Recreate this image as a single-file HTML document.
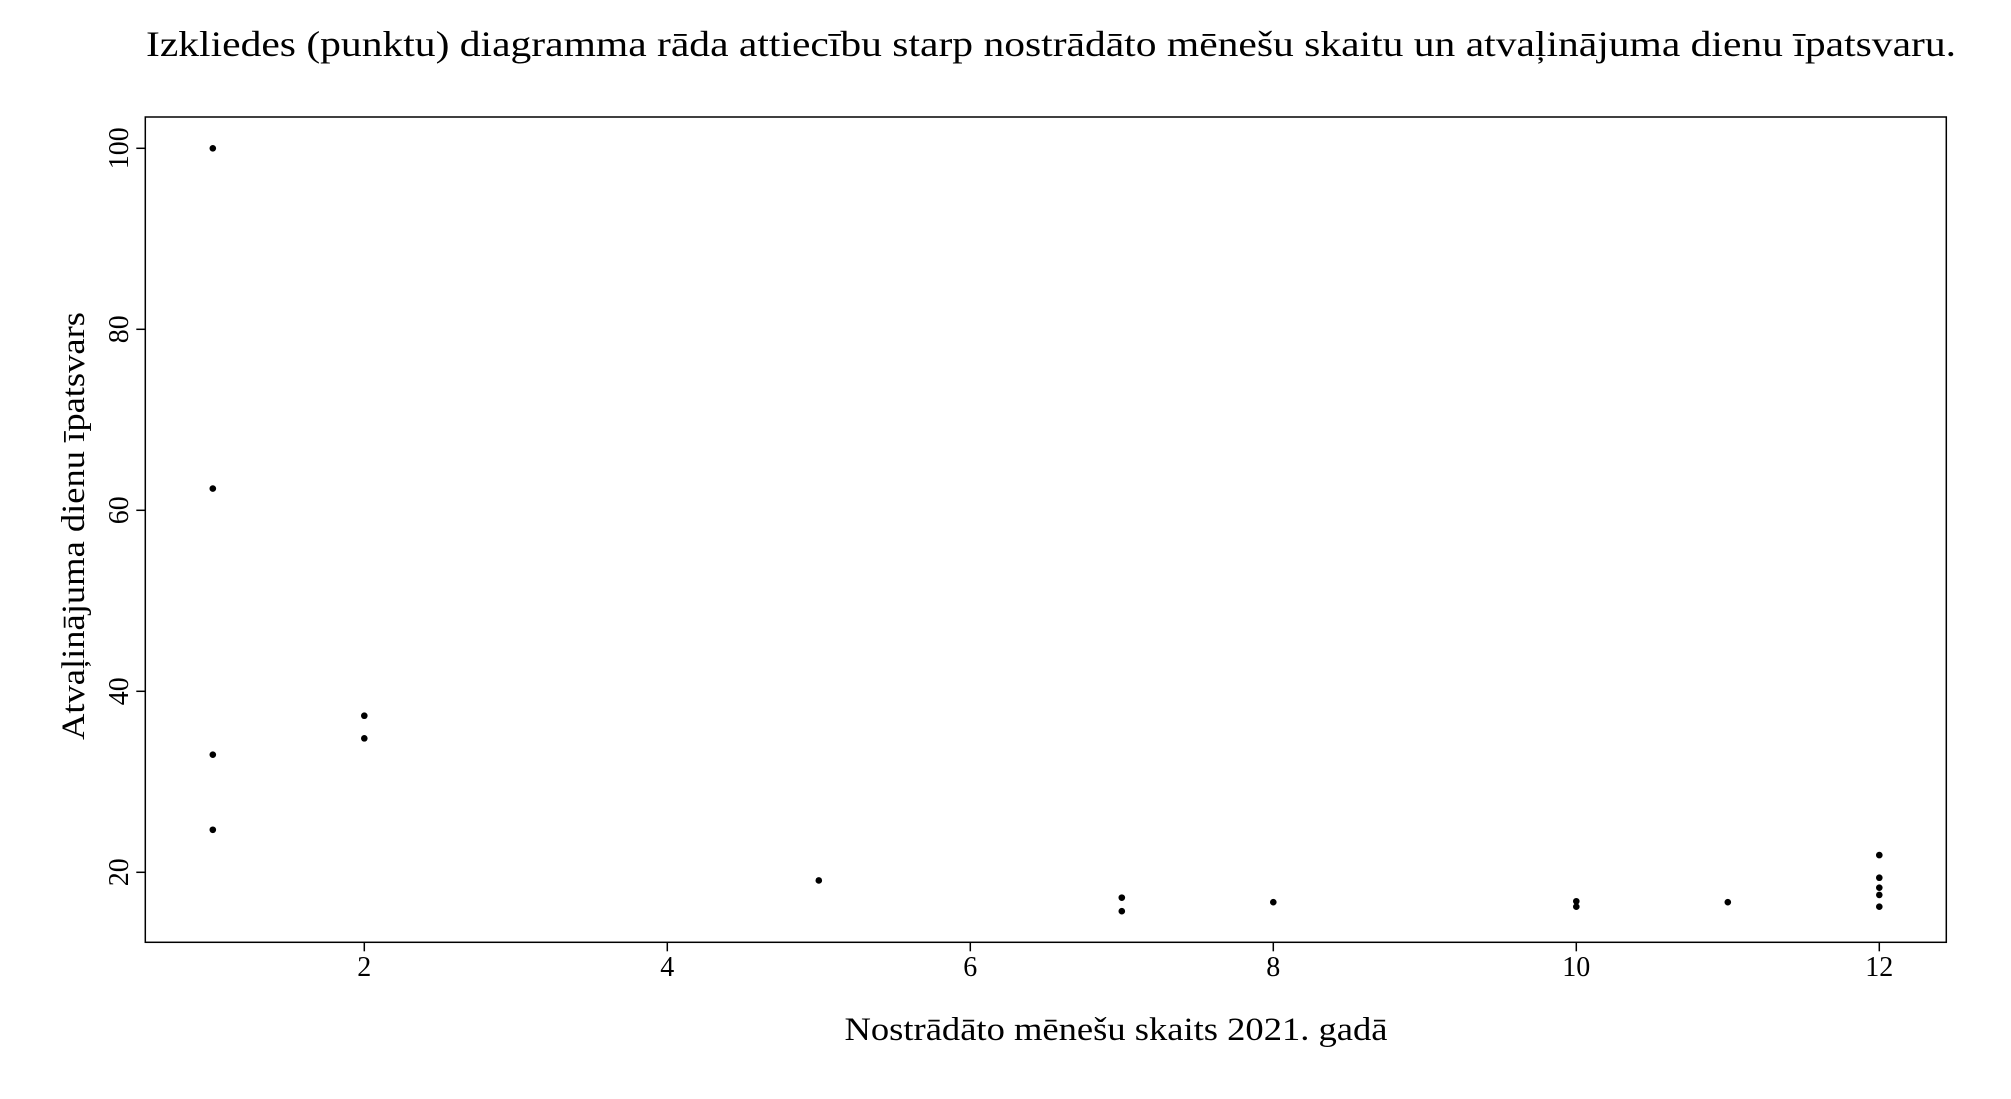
<!DOCTYPE html>
<html><head><meta charset="utf-8"><style>html,body{margin:0;padding:0;background:#fff}svg{display:block}</style></head>
<body>
<svg id="chart" width="2011" height="1099" viewBox="0 0 2011 1099" xmlns="http://www.w3.org/2000/svg" font-family="Liberation Serif, serif">
<text x="1051" y="56" text-anchor="middle" font-size="36" textLength="1810" lengthAdjust="spacingAndGlyphs">Izkliedes (punktu) diagramma rāda attiecību starp nostrādāto mēnešu skaitu un atvaļinājuma dienu īpatsvaru.</text>
<rect x="145.3" y="117" width="1801" height="825.3" fill="none" stroke="#000" stroke-width="1.5"/>
<g id="xticks"></g>
<g id="yticks"></g>
<g id="points"></g>
<text x="1116" y="1040" text-anchor="middle" font-size="33" textLength="543" lengthAdjust="spacingAndGlyphs">Nostrādāto mēnešu skaits 2021. gadā</text>
<text transform="translate(84,526) rotate(-90)" text-anchor="middle" font-size="33" textLength="428" lengthAdjust="spacingAndGlyphs">Atvaļinājuma dienu īpatsvars</text>
</svg>
<script>
const xValues = [1,1,1,1,2,2,5,7,7,8,10,10,11,12,12,12,12,12];
const yValues = [100,62.4,33.0,24.7,37.3,34.8,19.1,17.2,15.7,16.7,16.8,16.2,16.7,21.9,19.4,18.3,17.5,16.2];
const xTickLabels = [2,4,6,8,10,12];
const yTickLabels = [20,40,60,80,100];
const NS = "http://www.w3.org/2000/svg";
function xs(v){return 212.8 + (v-1)*151.5;}
function ys(v){return 148.3 + (100-v)*9.05;}
const bottom = 942.3, left = 145.3;
const xg = document.getElementById('xticks');
xTickLabels.forEach(t=>{
  const l = document.createElementNS(NS,'line');
  
  
  l.setAttribute('x1',xs(t));l.setAttribute('x2',xs(t));l.setAttribute('y1',bottom);l.setAttribute('y2',bottom+9);
  l.setAttribute('stroke','#000');l.setAttribute('stroke-width','1.5');xg.appendChild(l);
  const tx = document.createElementNS(NS,'text');
  
  
  tx.setAttribute('x',xs(t));tx.setAttribute('y',976);tx.setAttribute('text-anchor','middle');tx.setAttribute('font-size','28');
  tx.textContent=t;xg.appendChild(tx);
});
const yg = document.getElementById('yticks');
yTickLabels.forEach(t=>{
  const l = document.createElementNS(NS,'line');
  
  
  l.setAttribute('x1',left-9);l.setAttribute('x2',left);l.setAttribute('y1',ys(t));l.setAttribute('y2',ys(t));
  l.setAttribute('stroke','#000');l.setAttribute('stroke-width','1.5');yg.appendChild(l);
  const tx = document.createElementNS(NS,'text');
  
  
  tx.setAttribute('transform','translate(128,'+ys(t)+') rotate(-90)');tx.setAttribute('text-anchor','middle');tx.setAttribute('font-size','28');
  tx.textContent=t;yg.appendChild(tx);
});
const pg = document.getElementById('points');
xValues.forEach((x,i)=>{
  const c = document.createElementNS(NS,'circle');
  
  
  c.setAttribute('cx',xs(x));c.setAttribute('cy',ys(yValues[i]));c.setAttribute('r','3.3');c.setAttribute('fill','#000');
  pg.appendChild(c);
});
</script>
</body></html>
